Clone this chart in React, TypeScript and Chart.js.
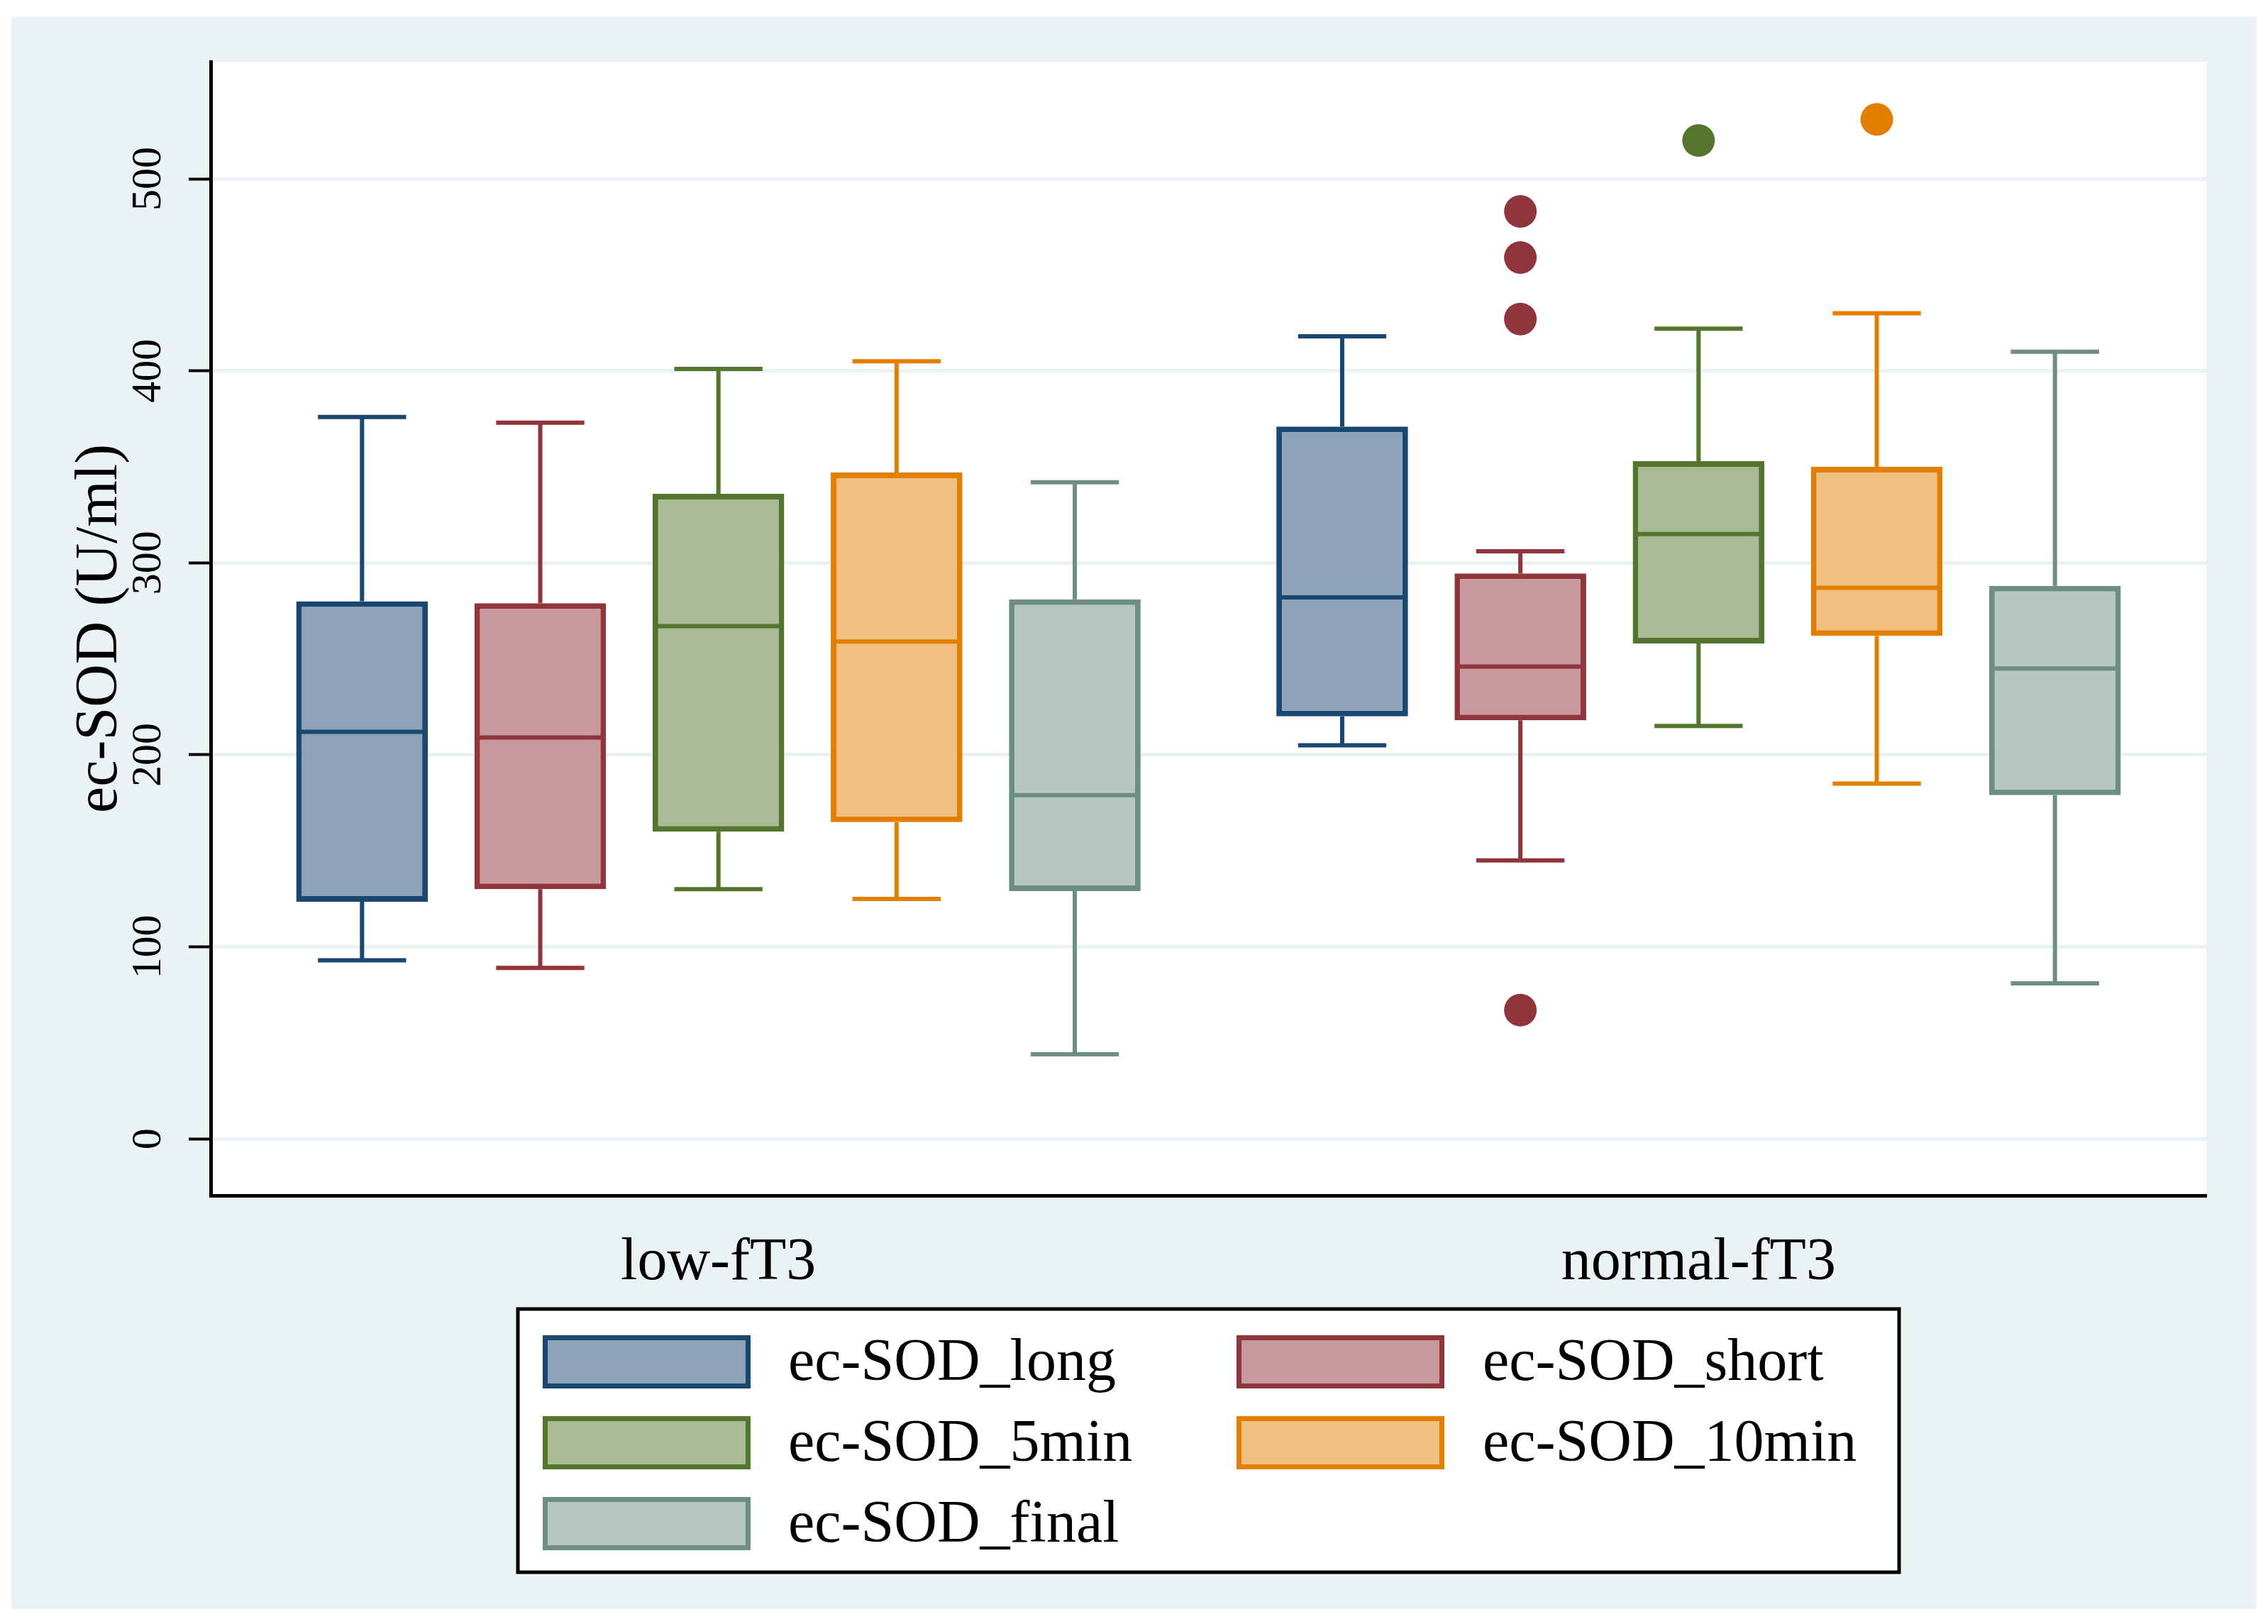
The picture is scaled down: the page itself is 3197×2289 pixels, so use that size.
import React, { useEffect, useRef } from 'react';
import { Chart, registerables } from 'chart.js';

Chart.register(...registerables);

const groups = ['low-fT3', 'normal-fT3'];
const groupPositions = [0, 1];
const seriesNames = ['ec-SOD_long', 'ec-SOD_short', 'ec-SOD_5min', 'ec-SOD_10min', 'ec-SOD_final'];
const strokeColors = ['#1a476f', '#90353b', '#55752f', '#e37e00', '#6e8e84'];
const fillColors = ['#8ca3b7', '#c8999d', '#aaba97', '#f1bf80', '#b6c6c1'];

// each array: one entry per series, each entry [low-fT3, normal-fT3]
const whiskerLow = [[93, 205], [89, 145], [130, 215], [125, 185], [44, 81]];
const quartile1 = [[123.5, 220], [130, 218], [160, 258], [165, 262], [129, 179]];
const medians = [[212, 282], [209, 246], [267, 315], [259, 287], [179, 245]];
const quartile3 = [[280, 371], [279, 294.5], [336, 353], [347, 350], [281, 288]];
const whiskerHigh = [[376, 418], [373, 306], [401, 422], [405, 430], [342, 410]];
const outliers = [
  [[], []],
  [[], [483, 459, 427, 67]],
  [[], [520]],
  [[], [531]],
  [[], []],
];

const yMin = -29.5;
const yMax = 561;
const yTickValues = [0, 100, 200, 300, 400, 500];
const yTitle = 'ec-SOD (U/ml)';

const FONT = "'Liberation Serif', 'Times New Roman', serif";
const PANEL_BG = '#eaf2f3';

const boxPlugin = {
  id: 'boxParts',
  beforeDraw(chart: any) {
    const { ctx, chartArea: ca, width, height } = chart;
    ctx.save();
    ctx.fillStyle = '#ffffff';
    ctx.fillRect(0, 0, width, height);
    ctx.fillStyle = PANEL_BG;
    ctx.fillRect(16, 23, width - 32, height - 44);
    ctx.fillStyle = '#ffffff';
    ctx.fillRect(ca.left, ca.top, ca.right - ca.left, ca.bottom - ca.top);
    ctx.restore();
  },
  beforeDatasetsDraw(chart: any) {
    const { ctx } = chart;
    const y = chart.scales.y;
    ctx.save();
    chart.data.datasets.forEach((ds: any, i: number) => {
      const meta = chart.getDatasetMeta(i);
      meta.data.forEach((bar: any, j: number) => {
        const x = bar.x;
        const capHalf = bar.width * 0.335;
        ctx.strokeStyle = strokeColors[i];
        ctx.lineWidth = 6;
        ctx.lineCap = 'butt';
        ctx.beginPath();
        ctx.moveTo(x, y.getPixelForValue(quartile3[i][j]));
        ctx.lineTo(x, y.getPixelForValue(whiskerHigh[i][j]));
        ctx.moveTo(x, y.getPixelForValue(quartile1[i][j]));
        ctx.lineTo(x, y.getPixelForValue(whiskerLow[i][j]));
        ctx.moveTo(x - capHalf, y.getPixelForValue(whiskerHigh[i][j]));
        ctx.lineTo(x + capHalf, y.getPixelForValue(whiskerHigh[i][j]));
        ctx.moveTo(x - capHalf, y.getPixelForValue(whiskerLow[i][j]));
        ctx.lineTo(x + capHalf, y.getPixelForValue(whiskerLow[i][j]));
        ctx.stroke();
      });
    });
    ctx.restore();
  },
  afterDatasetsDraw(chart: any) {
    const { ctx } = chart;
    const y = chart.scales.y;
    ctx.save();
    chart.data.datasets.forEach((ds: any, i: number) => {
      const meta = chart.getDatasetMeta(i);
      meta.data.forEach((bar: any, j: number) => {
        const x = bar.x;
        const half = bar.width / 2;
        ctx.strokeStyle = strokeColors[i];
        ctx.lineWidth = 6;
        ctx.beginPath();
        const my = y.getPixelForValue(medians[i][j]);
        ctx.moveTo(x - half + 4, my);
        ctx.lineTo(x + half - 4, my);
        ctx.stroke();
        ctx.fillStyle = strokeColors[i];
        outliers[i][j].forEach((v: number) => {
          ctx.beginPath();
          ctx.arc(x, y.getPixelForValue(v), 23, 0, Math.PI * 2);
          ctx.fill();
        });
      });
    });
    ctx.restore();
  },
  afterDraw(chart: any) {
    const { ctx, chartArea: ca } = chart;
    const y = chart.scales.y;
    ctx.save();
    // rotated y tick labels
    ctx.fillStyle = '#000000';
    ctx.font = `60px ${FONT}`;
    ctx.textAlign = 'center';
    ctx.textBaseline = 'middle';
    y.ticks.forEach((t: any) => {
      const py = y.getPixelForValue(t.value);
      ctx.save();
      ctx.translate(210, py);
      ctx.rotate(-Math.PI / 2);
      ctx.fillText(String(t.value), 0, 0);
      ctx.restore();
    });
    // legend
    const cx = (ca.left + ca.right) / 2;
    const lw = 1947;
    const lh = 371;
    const lx = cx - lw / 2;
    const ly = ca.bottom + 160;
    ctx.fillStyle = '#ffffff';
    ctx.fillRect(lx, ly, lw, lh);
    ctx.strokeStyle = '#000000';
    ctx.lineWidth = 5;
    ctx.strokeRect(lx, ly, lw, lh);
    const colSwatch = [35, 1013];
    const colText = [381, 1360];
    const rowY = [74, 188, 302];
    ctx.font = `84px ${FONT}`;
    ctx.textAlign = 'left';
    ctx.textBaseline = 'middle';
    chart.data.datasets.forEach((ds: any, i: number) => {
      const col = i % 2;
      const row = Math.floor(i / 2);
      const sx = lx + colSwatch[col];
      const sy = ly + rowY[row] - 37;
      ctx.fillStyle = fillColors[i];
      ctx.fillRect(sx, sy, 293, 75);
      ctx.strokeStyle = strokeColors[i];
      ctx.lineWidth = 7;
      ctx.strokeRect(sx + 3.5, sy + 3.5, 286, 68);
      ctx.fillStyle = '#000000';
      ctx.fillText(ds.label, lx + colText[col], ly + rowY[row] + 4);
    });
    ctx.restore();
  },
};

export default function App() {
  const ref = useRef<HTMLCanvasElement | null>(null);
  useEffect(() => {
    document.body.style.margin = '0';
    const canvas = ref.current;
    if (!canvas) return;
    const datasets = seriesNames.map((name, i) => ({
      label: name,
      data: groupPositions.map((gx, j) => ({ x: gx, y: [quartile1[i][j], quartile3[i][j]] })),
      backgroundColor: fillColors[i],
      borderColor: strokeColors[i],
      borderWidth: 8,
      borderSkipped: false,
      barPercentage: 0.739,
      categoryPercentage: 0.909,
    }));
    const chart = new Chart(canvas, {
      type: 'bar',
      data: { datasets },
      plugins: [boxPlugin],
      options: {
        responsive: false,
        animation: false,
        devicePixelRatio: 1,
        layout: { padding: { left: 0, right: 87, top: 87, bottom: 0 } },
        plugins: { legend: { display: false }, tooltip: { enabled: false } },
        scales: {
          x: {
            type: 'linear',
            min: -0.518,
            max: 1.518,
            offset: false,
            grid: { display: false, offset: false },
            border: { display: true, color: '#000000', width: 5 },
            afterBuildTicks(scale: any) {
              scale.ticks = groupPositions.map((v) => ({ value: v }));
            },
            ticks: {
              color: '#000000',
              font: { family: FONT, size: 84 },
              padding: 38,
              autoSkip: false,
              maxRotation: 0,
              callback: (v: any) => groups[groupPositions.indexOf(Number(v))],
            },
            afterFit(scale: any) {
              scale.height = 604;
            },
          },
          y: {
            min: yMin,
            max: yMax,
            grid: {
              color: PANEL_BG,
              lineWidth: 5,
              tickColor: '#000000',
              tickLength: 31,
              tickWidth: 4,
            },
            border: { display: true, color: '#000000', width: 5 },
            ticks: { display: false },
            afterBuildTicks(scale: any) {
              scale.ticks = yTickValues.map((v) => ({ value: v }));
            },
            title: {
              display: true,
              text: yTitle,
              color: '#000000',
              font: { family: FONT, size: 84 },
              padding: { top: 92, bottom: 0 },
            },
            afterFit(scale: any) {
              scale.width = 297;
            },
          },
        },
      },
    });
    return () => chart.destroy();
  }, []);
  return (
    <div style={{ position: 'fixed', left: 0, top: 0, width: 3197, height: 2289, background: '#ffffff' }}>
      <canvas ref={ref} width={3197} height={2289} style={{ width: 3197, height: 2289, display: 'block' }} />
    </div>
  );
}
